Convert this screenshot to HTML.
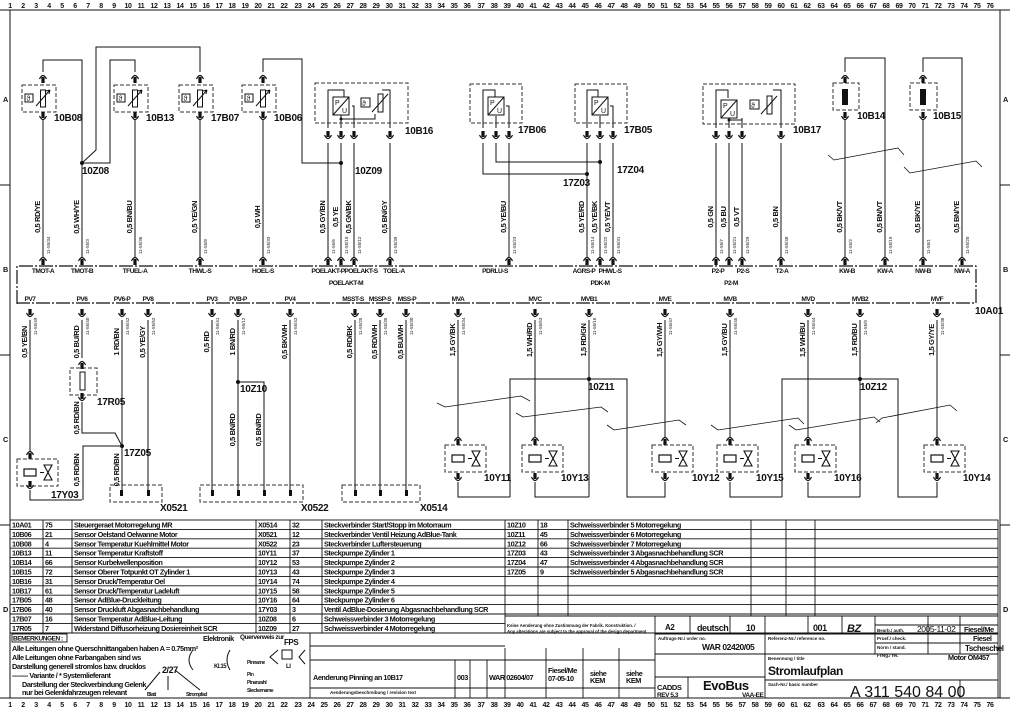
<!DOCTYPE html>
<html><head><meta charset="utf-8"><style>
html,body{margin:0;padding:0;background:#fff}
svg{display:block}
text{font-family:"Liberation Sans Narrow","Liberation Sans",sans-serif;fill:#111}
.t{font-size:7.3px;font-weight:bold;letter-spacing:-0.45px}
.p{font-size:6.6px;font-weight:bold;letter-spacing:-0.5px}
.s{font-size:4.5px}
.w{font-size:7.5px;font-weight:bold;letter-spacing:-0.4px}
.l{font-size:10px;font-weight:bold;letter-spacing:-0.3px}
</style></head><body>
<svg width="1010" height="711" viewBox="0 0 1010 711" xmlns="http://www.w3.org/2000/svg">
<defs>
<g id="cu"><path d="M-3.5,3 Q0,-4 3.5,3" fill="none" stroke="#111" stroke-width="1.2"/><rect x="-1.6" y="1" width="3.2" height="6" fill="#111"/></g>
<g id="cd"><path d="M-3.5,-3 Q0,4 3.5,-3" fill="none" stroke="#111" stroke-width="1.2"/><rect x="-1.6" y="-7" width="3.2" height="6" fill="#111"/></g>
<g id="ts"><rect x="-21" y="0" width="34" height="27" fill="none" stroke="#333" stroke-dasharray="4,2"/><rect x="-18" y="9" width="8" height="8" fill="none" stroke="#111"/><text x="-16.5" y="16" style="font-size:7px">ϑ</text><rect x="-2.5" y="5" width="5" height="17" fill="#fff" stroke="#111"/><path d="M-7,21 L7,5 M7,5 l-4,1 M7,5 l-1,4" stroke="#111" fill="none"/></g>
<g id="vv"><rect x="-13" y="0" width="41" height="27" fill="none" stroke="#333" stroke-dasharray="4,2"/><rect x="-6" y="10" width="12" height="7" fill="#fff" stroke="#111" stroke-width="1.2"/><path d="M10,13.5 H14 M14,6 L22,6 L14,21 L22,21 Z" fill="none" stroke="#111" stroke-width="1.1"/></g>
<g id="pu"><rect x="0" y="0" width="16" height="18" fill="#fff" stroke="#111"/><path d="M0,18 L16,0" stroke="#111"/><text x="2" y="8" style="font-size:7px">P</text><text x="9" y="16" style="font-size:7px">U</text></g>
</defs>
<g stroke="#111" fill="none" stroke-width="1">
<rect x="10" y="10" width="990" height="688"/>
<line x1="0" y1="10" x2="1010" y2="10"/><line x1="0" y1="698" x2="1010" y2="698"/>
<line x1="0" y1="185" x2="10" y2="185"/><line x1="0" y1="355" x2="10" y2="355"/><line x1="0" y1="525" x2="10" y2="525"/>
<line x1="1000" y1="185" x2="1010" y2="185"/><line x1="1000" y1="355" x2="1010" y2="355"/><line x1="1000" y1="525" x2="1010" y2="525"/>
<path d="M17,304 V266 H976 V303 H17" stroke-dasharray="14,2,2,2" stroke-width="1.2"/>
<path d="M43,258 V120 M43,72 V60 H82 V258"/>
<path d="M82,163 L96,150 V47 H200 V72 M82,163 H110 V60 H135 V72"/>
<path d="M135,258 V120 M200,258 V120"/>
<path d="M263,258 V120 M263,72 V59 H302 V163 H341"/>
<path d="M328,258 V143 M341,258 V143 M354,258 V143 M390,258 V143"/>
<path d="M328,128 V90 H344 V98 M341,128 V112 M354,128 V106 H352 M341,119 H375 V114 M390,128 V90 H382"/>
<path d="M483,143 V174 H587 M496,143 V162 H600 M509,143 V258"/>
<path d="M587,258 V143 M600,258 V143 M613,258 V143"/>
<path d="M483,128 V90 H495 V98 M496,128 V116 M509,128 V106 H506"/>
<path d="M587,128 V90 H598 V98 M600,128 V116 M613,128 V106 H610"/>
<path d="M716,258 V143 M729,258 V143 M742,258 V143 M781,258 V143"/>
<path d="M716,128 V90 H728 V98 M729,128 V116 M742,128 V118 M729,120 H742 M781,128 V90 H773"/>
<path d="M845,258 V120 M845,72 V58 H885 V258"/>
<path d="M923,258 V120 M923,72 V58 H962 V258"/>
<path d="M828,155 L834,160 L898,148 L904,155 M904,167 L910,173 L976,161 L982,167" stroke-width="0.8"/>
<rect x="315" y="83" width="93" height="40" stroke="#333" stroke-dasharray="4,2"/>
<rect x="470" y="84" width="52" height="39" stroke="#333" stroke-dasharray="4,2"/>
<rect x="575" y="84" width="52" height="39" stroke="#333" stroke-dasharray="4,2"/>
<rect x="703" y="84" width="92" height="40" stroke="#333" stroke-dasharray="4,2"/>
<rect x="833" y="83" width="26" height="27" stroke="#333" stroke-dasharray="4,2"/>
<rect x="910" y="83" width="27" height="27" stroke="#333" stroke-dasharray="4,2"/>
<path d="M30,320 V452 M30,490 V500 H82 M82,320 V358 M82,402 V433 H115 L122,446 H83 V500"/>
<path d="M122,320 V490 M148,320 V490"/>
<path d="M212,320 V490 M238,320 V490 M238,382 H264 V490 M290,320 V490"/>
<path d="M355,320 V490 M380,320 V490 M406,320 V490"/>
<rect x="70" y="368" width="27" height="27" stroke="#333" stroke-dasharray="4,2"/>
<rect x="80" y="372" width="5" height="18" fill="#fff"/>
<rect x="110" y="485" width="52" height="17" stroke="#333" stroke-dasharray="4,2"/>
<rect x="200" y="485" width="103" height="17" stroke="#333" stroke-dasharray="4,2"/>
<rect x="342" y="485" width="78" height="17" stroke="#333" stroke-dasharray="4,2"/>
<path d="M458,320 V438 M535,320 V438 M589,320 V497 M665,320 V438 M730,320 V438 M808,320 V438 M860,320 V497 M937,320 V438"/>
<path d="M510,497 V379 H627 V497 H665 V482 M458,482 V497 H510 M535,482 V497 H589"/>
<path d="M782,497 V379 H898 V497 H937 V482 M730,482 V497 H782 M808,482 V497 H860"/>
<path d="M437,403 L445,407 L521,396 L530,401 M516,413 L523,417 L601,407 L608,412 M607,425 L614,430 L679,420 L686,425 M711,425 L718,430 L798,418 L804,424 M789,425 L796,430 L874,417 L880,422 M876,423 L882,418 L950,405 L957,411" stroke-width="0.8"/>
</g>
<g fill="#111">
<circle cx="82" cy="163" r="2"/><circle cx="341" cy="163" r="2"/><circle cx="587" cy="174" r="2"/><circle cx="600" cy="162" r="2"/>
<circle cx="122" cy="446" r="2"/><circle cx="238" cy="382" r="2"/><circle cx="589" cy="379" r="2"/><circle cx="860" cy="379" r="2"/>
<circle cx="341" cy="119" r="1.5"/><circle cx="729" cy="120" r="1.5"/>
<rect x="842" y="89" width="6" height="16"/><rect x="920" y="89" width="6" height="16"/>
</g>
<use href="#ts" x="43" y="85"/><use href="#ts" x="135" y="85"/><use href="#ts" x="200" y="85"/><use href="#ts" x="263" y="85"/>
<use href="#pu" x="333" y="97"/><use href="#pu" x="488" y="97"/><use href="#pu" x="592" y="97"/><use href="#pu" x="721" y="100"/>
<g stroke="#111" fill="none"><rect x="361" y="98" width="9" height="9"/><rect x="378" y="94" width="5" height="18" fill="#fff"/><path d="M372,112 L388,94"/>
<rect x="750" y="100" width="9" height="9"/><rect x="767" y="96" width="5" height="18" fill="#fff"/><path d="M761,114 L777,96"/></g>
<text x="362" y="106" style="font-size:7px">ϑ</text><text x="751" y="108" style="font-size:7px">ϑ</text>
<g>
<use href="#cu" x="43" y="76"/><use href="#cd" x="43" y="119"/><use href="#cu" x="135" y="76"/><use href="#cd" x="135" y="119"/>
<use href="#cu" x="200" y="76"/><use href="#cd" x="200" y="119"/><use href="#cu" x="263" y="76"/><use href="#cd" x="263" y="119"/>
<use href="#cu" x="845" y="76"/><use href="#cd" x="845" y="119"/><use href="#cu" x="923" y="76"/><use href="#cd" x="923" y="119"/>
<use href="#cd" x="328" y="138"/><use href="#cd" x="341" y="138"/><use href="#cd" x="354" y="138"/><use href="#cd" x="390" y="138"/>
<use href="#cd" x="483" y="138"/><use href="#cd" x="496" y="138"/><use href="#cd" x="509" y="138"/>
<use href="#cd" x="587" y="138"/><use href="#cd" x="600" y="138"/><use href="#cd" x="613" y="138"/>
<use href="#cd" x="716" y="138"/><use href="#cd" x="729" y="138"/><use href="#cd" x="742" y="138"/><use href="#cd" x="781" y="138"/>
<use href="#cu" x="43" y="258"/><use href="#cu" x="82" y="258"/><use href="#cu" x="135" y="258"/><use href="#cu" x="200" y="258"/><use href="#cu" x="263" y="258"/>
<use href="#cu" x="328" y="258"/><use href="#cu" x="341" y="258"/><use href="#cu" x="354" y="258"/><use href="#cu" x="390" y="258"/><use href="#cu" x="509" y="258"/>
<use href="#cu" x="587" y="258"/><use href="#cu" x="600" y="258"/><use href="#cu" x="613" y="258"/><use href="#cu" x="716" y="258"/><use href="#cu" x="729" y="258"/>
<use href="#cu" x="742" y="258"/><use href="#cu" x="781" y="258"/><use href="#cu" x="845" y="258"/><use href="#cu" x="885" y="258"/><use href="#cu" x="923" y="258"/><use href="#cu" x="962" y="258"/>
<use href="#cd" x="30" y="316"/><use href="#cd" x="82" y="316"/><use href="#cd" x="122" y="316"/><use href="#cd" x="148" y="316"/><use href="#cd" x="212" y="316"/>
<use href="#cd" x="238" y="316"/><use href="#cd" x="290" y="316"/><use href="#cd" x="355" y="316"/><use href="#cd" x="380" y="316"/><use href="#cd" x="406" y="316"/>
<use href="#cd" x="458" y="316"/><use href="#cd" x="535" y="316"/><use href="#cd" x="589" y="316"/><use href="#cd" x="665" y="316"/><use href="#cd" x="730" y="316"/>
<use href="#cd" x="808" y="316"/><use href="#cd" x="860" y="316"/><use href="#cd" x="937" y="316"/>
<use href="#cu" x="82" y="362"/><use href="#cd" x="82" y="400"/>
<use href="#cu" x="30" y="452"/><use href="#cd" x="30" y="488"/>
</g>
<use href="#vv" x="30" y="459"/>
<use href="#vv" x="458" y="445"/><use href="#vv" x="535" y="445"/><use href="#vv" x="665" y="445"/><use href="#vv" x="730" y="445"/><use href="#vv" x="808" y="445"/><use href="#vv" x="937" y="445"/>
<g>
<use href="#cu" x="458" y="438"/><use href="#cd" x="458" y="480"/><use href="#cu" x="535" y="438"/><use href="#cd" x="535" y="480"/>
<use href="#cu" x="665" y="438"/><use href="#cd" x="665" y="480"/><use href="#cu" x="730" y="438"/><use href="#cd" x="730" y="480"/>
<use href="#cu" x="808" y="438"/><use href="#cd" x="808" y="480"/><use href="#cu" x="937" y="438"/><use href="#cd" x="937" y="480"/>
</g>
<g fill="#111"><rect x="120" y="490" width="3" height="6"/><rect x="147" y="490" width="3" height="6"/><rect x="211" y="490" width="3" height="6"/><rect x="237" y="490" width="3" height="6"/><rect x="263" y="490" width="3" height="6"/><rect x="289" y="490" width="3" height="6"/><rect x="354" y="490" width="3" height="6"/><rect x="379" y="490" width="3" height="6"/><rect x="405" y="490" width="3" height="6"/></g>
<g class="l">
<text x="54" y="121">10B08</text><text x="146" y="121">10B13</text><text x="211" y="121">17B07</text><text x="274" y="121">10B06</text><text x="405" y="134">10B16</text>
<text x="82" y="174">10Z08</text><text x="355" y="174">10Z09</text>
<text x="518" y="133">17B06</text><text x="624" y="133">17B05</text><text x="793" y="133">10B17</text><text x="857" y="119">10B14</text><text x="933" y="119">10B15</text>
<text x="617" y="173">17Z04</text><text x="563" y="186">17Z03</text>
<text x="97" y="405">17R05</text><text x="124" y="456">17Z05</text><text x="51" y="498">17Y03</text><text x="240" y="392">10Z10</text>
<text x="588" y="390">10Z11</text><text x="860" y="390">10Z12</text><text x="975" y="314">10A01</text>
<text x="160" y="511">X0521</text><text x="301" y="511">X0522</text><text x="420" y="511">X0514</text>
<text x="484" y="481">10Y11</text><text x="561" y="481">10Y13</text><text x="692" y="481">10Y12</text><text x="756" y="481">10Y15</text><text x="834" y="481">10Y16</text><text x="963" y="481">10Y14</text>
</g>
<g class="p" text-anchor="middle">
<text x="43" y="273">TMOT-A</text><text x="82" y="273">TMOT-B</text><text x="135" y="273">TFUEL-A</text><text x="200" y="273">THWL-S</text><text x="263" y="273">HOEL-S</text>
<text x="328" y="273">POELAKT-P</text><text x="361" y="273">POELAKT-S</text><text x="394" y="273">TOEL-A</text><text x="346" y="285">POELAKT-M</text>
<text x="495" y="273">PDRLU-S</text><text x="584" y="273">AGRS-P</text><text x="610" y="273">PHWL-S</text><text x="600" y="285">PDK-M</text>
<text x="718" y="273">P2-P</text><text x="743" y="273">P2-S</text><text x="782" y="273">T2-A</text><text x="731" y="285">P2-M</text>
<text x="847" y="273">KW-B</text><text x="885" y="273">KW-A</text><text x="923" y="273">NW-B</text><text x="962" y="273">NW-A</text>
<text x="30" y="301">PV7</text><text x="82" y="301">PV6</text><text x="122" y="301">PV6-P</text><text x="148" y="301">PV8</text><text x="212" y="301">PV3</text>
<text x="238" y="301">PVB-P</text><text x="290" y="301">PV4</text><text x="353" y="301">MSST-S</text><text x="380" y="301">MSSP-S</text><text x="407" y="301">MSS-P</text>
<text x="458" y="301">MVA</text><text x="535" y="301">MVC</text><text x="589" y="301">MVB1</text><text x="665" y="301">MVE</text><text x="730" y="301">MVB</text>
<text x="808" y="301">MVD</text><text x="860" y="301">MVB2</text><text x="937" y="301">MVF</text>
</g>
<g class="w" text-anchor="middle">
<text transform="translate(40,217) rotate(-90)">0,5 RD/YE</text><text transform="translate(79,217) rotate(-90)">0,5 WH/YE</text>
<text transform="translate(132,217) rotate(-90)">0,5 BN/BU</text><text transform="translate(197,217) rotate(-90)">0,5 YE/GN</text>
<text transform="translate(260,217) rotate(-90)">0,5 WH</text><text transform="translate(325,217) rotate(-90)">0,5 GY/BN</text>
<text transform="translate(338,217) rotate(-90)">0,5 YE</text><text transform="translate(351,217) rotate(-90)">0,5 GN/BK</text>
<text transform="translate(387,217) rotate(-90)">0,5 BN/GY</text><text transform="translate(506,217) rotate(-90)">0,5 YE/BU</text>
<text transform="translate(584,217) rotate(-90)">0,5 YE/RD</text><text transform="translate(597,217) rotate(-90)">0,5 YE/BK</text>
<text transform="translate(610,217) rotate(-90)">0,5 YE/VT</text><text transform="translate(713,217) rotate(-90)">0,5 GN</text>
<text transform="translate(726,217) rotate(-90)">0,5 BU</text><text transform="translate(739,217) rotate(-90)">0,5 VT</text>
<text transform="translate(778,217) rotate(-90)">0,5 BN</text><text transform="translate(842,217) rotate(-90)">0,5 BK/VT</text>
<text transform="translate(882,217) rotate(-90)">0,5 BN/VT</text><text transform="translate(920,217) rotate(-90)">0,5 BK/YE</text>
<text transform="translate(959,217) rotate(-90)">0,5 BN/YE</text>
<text transform="translate(27,342) rotate(-90)">0,5 YE/BN</text><text transform="translate(79,342) rotate(-90)">0,5 BU/RD</text>
<text transform="translate(119,342) rotate(-90)">1 RD/BN</text><text transform="translate(145,342) rotate(-90)">0,5 YE/GY</text>
<text transform="translate(209,342) rotate(-90)">0,5 RD</text><text transform="translate(235,342) rotate(-90)">1 BN/RD</text>
<text transform="translate(287,342) rotate(-90)">0,5 BK/WH</text><text transform="translate(352,342) rotate(-90)">0,5 RD/BK</text>
<text transform="translate(377,342) rotate(-90)">0,5 RD/WH</text><text transform="translate(403,342) rotate(-90)">0,5 BU/WH</text>
<text transform="translate(79,418) rotate(-90)">0,5 RD/BN</text><text transform="translate(79,470) rotate(-90)">0,5 RD/BN</text>
<text transform="translate(119,470) rotate(-90)">0,5 RD/BN</text><text transform="translate(235,430) rotate(-90)">0,5 BN/RD</text>
<text transform="translate(261,430) rotate(-90)">0,5 BN/RD</text>
<text transform="translate(455,340) rotate(-90)">1,5 GY/BK</text><text transform="translate(532,340) rotate(-90)">1,5 WH/RD</text>
<text transform="translate(586,340) rotate(-90)">1,5 RD/GN</text><text transform="translate(662,340) rotate(-90)">1,5 GY/WH</text>
<text transform="translate(727,340) rotate(-90)">1,5 GY/BU</text><text transform="translate(805,340) rotate(-90)">1,5 WH/BU</text>
<text transform="translate(857,340) rotate(-90)">1,5 RD/BU</text><text transform="translate(934,340) rotate(-90)">1,5 GY/YE</text>
</g>
<g class="s">
<text transform="translate(50,254) rotate(-90)">11-55/34</text><text transform="translate(89,254) rotate(-90)">11-55/3</text><text transform="translate(142,254) rotate(-90)">11-55/36</text>
<text transform="translate(207,254) rotate(-90)">11-55/8</text><text transform="translate(270,254) rotate(-90)">11-55/33</text><text transform="translate(335,254) rotate(-90)">11-55/6</text>
<text transform="translate(348,254) rotate(-90)">11-55/10</text><text transform="translate(361,254) rotate(-90)">11-55/12</text><text transform="translate(397,254) rotate(-90)">11-55/39</text>
<text transform="translate(516,254) rotate(-90)">11-55/23</text><text transform="translate(594,254) rotate(-90)">11-55/14</text><text transform="translate(607,254) rotate(-90)">11-55/22</text>
<text transform="translate(620,254) rotate(-90)">11-55/31</text><text transform="translate(723,254) rotate(-90)">11-55/7</text><text transform="translate(736,254) rotate(-90)">11-55/21</text>
<text transform="translate(749,254) rotate(-90)">11-55/29</text><text transform="translate(788,254) rotate(-90)">11-55/48</text><text transform="translate(852,254) rotate(-90)">11-55/2</text>
<text transform="translate(892,254) rotate(-90)">11-55/19</text><text transform="translate(930,254) rotate(-90)">11-55/1</text><text transform="translate(969,254) rotate(-90)">11-55/20</text>
<text transform="translate(37,335) rotate(-90)">11-55/49</text><text transform="translate(89,335) rotate(-90)">11-55/40</text><text transform="translate(129,335) rotate(-90)">11-55/42</text>
<text transform="translate(155,335) rotate(-90)">11-55/52</text><text transform="translate(219,335) rotate(-90)">11-55/41</text><text transform="translate(245,335) rotate(-90)">11-55/12</text>
<text transform="translate(297,335) rotate(-90)">11-55/43</text><text transform="translate(362,335) rotate(-90)">11-55/25</text><text transform="translate(387,335) rotate(-90)">11-55/35</text>
<text transform="translate(413,335) rotate(-90)">11-55/30</text><text transform="translate(465,335) rotate(-90)">11-55/34</text><text transform="translate(542,335) rotate(-90)">11-55/53</text>
<text transform="translate(596,335) rotate(-90)">11-55/16</text><text transform="translate(672,335) rotate(-90)">11-55/47</text><text transform="translate(737,335) rotate(-90)">11-55/45</text>
<text transform="translate(815,335) rotate(-90)">11-55/44</text><text transform="translate(867,335) rotate(-90)">11-55/9</text><text transform="translate(944,335) rotate(-90)">11-55/38</text>
</g>
<g stroke="#111" fill="none" stroke-width="0.9">
<rect x="10" y="520" width="988" height="113"/>
<path d="M10,529.4 H998 M10,538.8 H998 M10,548.2 H998 M10,557.6 H998 M10,567 H998 M10,576.4 H998 M10,585.8 H998 M10,595.2 H998 M10,604.6 H998 M10,614 H998 M10,623.4 H505"/>
<path d="M43,520 V633 M72,520 V633 M256,520 V633 M290,520 V633 M322,520 V633 M505,520 V633 M538,520 V616 M568,520 V616 M751,520 V616 M786,520 V616 M815,520 V616"/>
<rect x="10" y="633" width="988" height="65"/>
<path d="M310,633 V698 M310,688 H505 M455,660 V698 M470,660 V698 M487,660 V698 M310,660 H505 M310,646 H505"/>
<path d="M505,616 H998 M505,648 V698 M505,660 H655 M546,648 V698 M583,648 V698 M619,648 V698 M505,688 H655"/>
<path d="M655,616 V698 M655,634 H875 M690,616 V634 M730,616 V634 M765,616 V698 M808,616 V634 M842,616 V634 M875,616 V654 M655,654 H998 M655,677 H765 M688,677 V698 M765,680 H998 M928,616 V654 M960,616 V654 M875,625 H998 M875,634 H998 M875,643 H998 M960,680 V698"/>
<rect x="12" y="634" width="55" height="8"/>
</g>
<g class="t">
<text x="12" y="527.5">10A01</text><text x="45" y="527.5">75</text><text x="74" y="527.5">Steuergeraet Motorregelung MR</text>
<text x="12" y="536.9">10B06</text><text x="45" y="536.9">21</text><text x="74" y="536.9">Sensor Oelstand Oelwanne Motor</text>
<text x="12" y="546.3">10B08</text><text x="45" y="546.3">4</text><text x="74" y="546.3">Sensor Temperatur Kuehlmittel Motor</text>
<text x="12" y="555.7">10B13</text><text x="45" y="555.7">11</text><text x="74" y="555.7">Sensor Temperatur Kraftstoff</text>
<text x="12" y="565.1">10B14</text><text x="45" y="565.1">66</text><text x="74" y="565.1">Sensor Kurbelwellenposition</text>
<text x="12" y="574.5">10B15</text><text x="45" y="574.5">72</text><text x="74" y="574.5">Sensor Oberer Totpunkt OT Zylinder 1</text>
<text x="12" y="583.9">10B16</text><text x="45" y="583.9">31</text><text x="74" y="583.9">Sensor Druck/Temperatur Oel</text>
<text x="12" y="593.3">10B17</text><text x="45" y="593.3">61</text><text x="74" y="593.3">Sensor Druck/Temperatur Ladeluft</text>
<text x="12" y="602.7">17B05</text><text x="45" y="602.7">48</text><text x="74" y="602.7">Sensor AdBlue-Druckleitung</text>
<text x="12" y="612.1">17B06</text><text x="45" y="612.1">40</text><text x="74" y="612.1">Sensor Druckluft Abgasnachbehandlung</text>
<text x="12" y="621.5">17B07</text><text x="45" y="621.5">16</text><text x="74" y="621.5">Sensor Temperatur AdBlue-Leitung</text>
<text x="12" y="630.9">17R05</text><text x="45" y="630.9">7</text><text x="74" y="630.9">Widerstand Diffusorheizung Dosiereinheit SCR</text>
<text x="258" y="527.5">X0514</text><text x="292" y="527.5">32</text><text x="324" y="527.5">Steckverbinder Start/Stopp im Motorraum</text>
<text x="258" y="536.9">X0521</text><text x="292" y="536.9">12</text><text x="324" y="536.9">Steckverbinder Ventil Heizung AdBlue-Tank</text>
<text x="258" y="546.3">X0522</text><text x="292" y="546.3">23</text><text x="324" y="546.3">Steckverbinder Luftersteuerung</text>
<text x="258" y="555.7">10Y11</text><text x="292" y="555.7">37</text><text x="324" y="555.7">Steckpumpe Zylinder 1</text>
<text x="258" y="565.1">10Y12</text><text x="292" y="565.1">53</text><text x="324" y="565.1">Steckpumpe Zylinder 2</text>
<text x="258" y="574.5">10Y13</text><text x="292" y="574.5">43</text><text x="324" y="574.5">Steckpumpe Zylinder 3</text>
<text x="258" y="583.9">10Y14</text><text x="292" y="583.9">74</text><text x="324" y="583.9">Steckpumpe Zylinder 4</text>
<text x="258" y="593.3">10Y15</text><text x="292" y="593.3">58</text><text x="324" y="593.3">Steckpumpe Zylinder 5</text>
<text x="258" y="602.7">10Y16</text><text x="292" y="602.7">64</text><text x="324" y="602.7">Steckpumpe Zylinder 6</text>
<text x="258" y="612.1">17Y03</text><text x="292" y="612.1">3</text><text x="324" y="612.1">Ventil AdBlue-Dosierung Abgasnachbehandlung SCR</text>
<text x="258" y="621.5">10Z08</text><text x="292" y="621.5">6</text><text x="324" y="621.5">Schweissverbinder 3 Motorregelung</text>
<text x="258" y="630.9">10Z09</text><text x="292" y="630.9">27</text><text x="324" y="630.9">Schweissverbinder 4 Motorregelung</text>
<text x="507" y="527.5">10Z10</text><text x="540" y="527.5">18</text><text x="570" y="527.5">Schweissverbinder 5 Motorregelung</text>
<text x="507" y="536.9">10Z11</text><text x="540" y="536.9">45</text><text x="570" y="536.9">Schweissverbinder 6 Motorregelung</text>
<text x="507" y="546.3">10Z12</text><text x="540" y="546.3">66</text><text x="570" y="546.3">Schweissverbinder 7 Motorregelung</text>
<text x="507" y="555.7">17Z03</text><text x="540" y="555.7">43</text><text x="570" y="555.7">Schweissverbinder 3 Abgasnachbehandlung SCR</text>
<text x="507" y="565.1">17Z04</text><text x="540" y="565.1">47</text><text x="570" y="565.1">Schweissverbinder 4 Abgasnachbehandlung SCR</text>
<text x="507" y="574.5">17Z05</text><text x="540" y="574.5">9</text><text x="570" y="574.5">Schweissverbinder 5 Abgasnachbehandlung SCR</text>
<text x="13" y="640.5" style="font-size:6.5px">BEMERKUNGEN :</text>
<text x="12" y="651">Alle Leitungen ohne Querschnittangaben haben A = 0.75mm²</text>
<text x="12" y="660">Alle Leitungen ohne Farbangaben sind ws</text>
<text x="12" y="669">Darstellung generell stromlos bzw. drucklos</text>
<text x="12" y="678">-------- Variante  /  * Systemlieferant</text>
<text x="22" y="687">Darstellung der Steckverbindung Gelenk</text>
<text x="22" y="695">nur bei Gelenkfahrzeugen relevant</text>
<text x="162" y="673" style="font-size:9px">2/27</text>
<text x="147" y="696" style="font-size:5px">Blatt</text><text x="186" y="696" style="font-size:5px">Strompfad</text>
<text x="203" y="641">Elektronik</text><text x="240" y="639" style="font-size:6.5px">Querverweis zur</text><text x="284" y="645" style="font-size:8px">FPS</text>
<text x="214" y="668" style="font-size:6px">Kl.15</text><text x="286" y="668" style="font-size:6px">LI</text>
<text x="247" y="664" style="font-size:5px">Pinname</text><text x="247" y="676" style="font-size:5px">Pin</text><text x="247" y="684" style="font-size:5px">Pinanzahl</text><text x="247" y="692" style="font-size:5px">Steckername</text>
<text x="313" y="680">Aenderung Pinning an 10B17</text>
<text x="330" y="694" style="font-size:4.5px;letter-spacing:0">Aenderungsbeschreibung / revision text</text>
<text x="457" y="680">003</text><text x="489" y="680">WAR 02604/07</text>
<text x="548" y="673">Fiesel/Me</text><text x="548" y="681">07-05-10</text><text x="590" y="676">siehe</text><text x="590" y="683">KEM</text><text x="626" y="676">siehe</text><text x="626" y="683">KEM</text>
<text x="507" y="627" style="font-size:4.3px;letter-spacing:0">Keine Aenderung ohne Zustimmung der Fabrik. Konstruktion. /</text>
<text x="507" y="633" style="font-size:4.3px;letter-spacing:0">Any alterations are subject to the approval of the design department</text>
<text x="665" y="630" style="font-size:8px">A2</text><text x="697" y="631" style="font-size:9px">deutsch</text><text x="746" y="631" style="font-size:9px">10</text>
<text x="813" y="631" style="font-size:9px">001</text><text x="847" y="632" style="font-size:11px;font-style:italic">BZ</text>
<text x="658" y="640" style="font-size:4.5px;letter-spacing:0">Auftrags-Nr./ order no.</text><text x="702" y="650" style="font-size:8.5px">WAR 02420/05</text>
<text x="768" y="640" style="font-size:4.5px;letter-spacing:0">Referenz-Nr./ reference no.</text>
<text x="768" y="660" style="font-size:4.5px;letter-spacing:0">Benennung / title</text><text x="948" y="660">Motor OM457</text>
<text x="768" y="675" style="font-size:12px">Stromlaufplan</text>
<text x="768" y="686" style="font-size:4.5px;letter-spacing:0">Sach-Nr./ basic number</text>
<text x="850" y="697" style="font-size:16px;font-weight:normal;letter-spacing:0">A 311 540 84 00</text>
<text x="657" y="690" style="font-size:7.5px">CADDS</text><text x="657" y="697" style="font-size:6.5px">REV 5.3</text>
<text x="703" y="690" style="font-size:13px">EvoBus</text>
<text x="742" y="697" style="font-size:6.5px">VAA-EE</text>
<text x="877" y="632" style="font-size:4.5px;letter-spacing:0">Bearb./ auth.</text><text x="877" y="640" style="font-size:4.5px;letter-spacing:0">Pruef./ check.</text>
<text x="877" y="649" style="font-size:4.5px;letter-spacing:0">Norm / stand.</text><text x="877" y="657" style="font-size:4.5px;letter-spacing:0">Freig./ rel.</text>
<text x="917" y="632" style="font-size:8.5px;font-weight:normal">2005-11-02</text><text x="964" y="632" style="font-size:7.5px">Fiesel/Me</text>
<text x="973" y="641" style="font-size:7.5px">Fiesel</text><text x="965" y="651" style="font-size:8px">Tscheschel</text>
</g>
<g stroke="#111" fill="none"><path d="M193,650 q-8,10 0,20 M230,650 q-6,10 0,20 M278,650 l-8,7 l8,7 M305,650 l-6,7 l6,7 M160,672 L145,690 M168,676 V690 M175,670 L200,690"/><rect x="282" y="650" width="10" height="9"/></g>
<g class="t"><text x="3" y="102">A</text><text x="3" y="272">B</text><text x="3" y="442">C</text><text x="3" y="612">D</text>
<text x="1003" y="102">A</text><text x="1003" y="272">B</text><text x="1003" y="442">C</text><text x="1003" y="612">D</text></g>
<g class="t" text-anchor="middle" style="font-size:7px">
<text x="10" y="8">1</text><text x="23" y="8">2</text><text x="36" y="8">3</text><text x="49" y="8">4</text><text x="62" y="8">5</text><text x="75" y="8">6</text><text x="88" y="8">7</text><text x="101" y="8">8</text><text x="114" y="8">9</text><text x="128" y="8">10</text><text x="141" y="8">11</text><text x="154" y="8">12</text><text x="167" y="8">13</text><text x="180" y="8">14</text><text x="193" y="8">15</text><text x="206" y="8">16</text><text x="219" y="8">17</text><text x="232" y="8">18</text><text x="245" y="8">19</text><text x="258" y="8">20</text><text x="271" y="8">21</text><text x="284" y="8">22</text><text x="298" y="8">23</text><text x="311" y="8">24</text><text x="324" y="8">25</text><text x="337" y="8">26</text><text x="350" y="8">27</text><text x="363" y="8">28</text><text x="376" y="8">29</text><text x="389" y="8">30</text><text x="402" y="8">31</text><text x="415" y="8">32</text><text x="428" y="8">33</text><text x="441" y="8">34</text><text x="454" y="8">35</text><text x="467" y="8">36</text><text x="481" y="8">37</text><text x="494" y="8">38</text><text x="507" y="8">39</text><text x="520" y="8">40</text><text x="533" y="8">41</text><text x="546" y="8">42</text><text x="559" y="8">43</text><text x="572" y="8">44</text><text x="585" y="8">45</text><text x="598" y="8">46</text><text x="611" y="8">47</text><text x="624" y="8">48</text><text x="637" y="8">49</text><text x="651" y="8">50</text><text x="664" y="8">51</text><text x="677" y="8">52</text><text x="690" y="8">53</text><text x="703" y="8">54</text><text x="716" y="8">55</text><text x="729" y="8">56</text><text x="742" y="8">57</text><text x="755" y="8">58</text><text x="768" y="8">59</text><text x="781" y="8">60</text><text x="794" y="8">61</text><text x="807" y="8">62</text><text x="821" y="8">63</text><text x="834" y="8">64</text><text x="847" y="8">65</text><text x="860" y="8">66</text><text x="873" y="8">67</text><text x="886" y="8">68</text><text x="899" y="8">69</text><text x="912" y="8">70</text><text x="925" y="8">71</text><text x="938" y="8">72</text><text x="951" y="8">73</text><text x="964" y="8">74</text><text x="977" y="8">75</text><text x="990" y="8">76</text>
</g>
<g class="t" text-anchor="middle" style="font-size:7px">
<text x="10" y="707">1</text><text x="23" y="707">2</text><text x="36" y="707">3</text><text x="49" y="707">4</text><text x="62" y="707">5</text><text x="75" y="707">6</text><text x="88" y="707">7</text><text x="101" y="707">8</text><text x="114" y="707">9</text><text x="128" y="707">10</text><text x="141" y="707">11</text><text x="154" y="707">12</text><text x="167" y="707">13</text><text x="180" y="707">14</text><text x="193" y="707">15</text><text x="206" y="707">16</text><text x="219" y="707">17</text><text x="232" y="707">18</text><text x="245" y="707">19</text><text x="258" y="707">20</text><text x="271" y="707">21</text><text x="284" y="707">22</text><text x="298" y="707">23</text><text x="311" y="707">24</text><text x="324" y="707">25</text><text x="337" y="707">26</text><text x="350" y="707">27</text><text x="363" y="707">28</text><text x="376" y="707">29</text><text x="389" y="707">30</text><text x="402" y="707">31</text><text x="415" y="707">32</text><text x="428" y="707">33</text><text x="441" y="707">34</text><text x="454" y="707">35</text><text x="467" y="707">36</text><text x="481" y="707">37</text><text x="494" y="707">38</text><text x="507" y="707">39</text><text x="520" y="707">40</text><text x="533" y="707">41</text><text x="546" y="707">42</text><text x="559" y="707">43</text><text x="572" y="707">44</text><text x="585" y="707">45</text><text x="598" y="707">46</text><text x="611" y="707">47</text><text x="624" y="707">48</text><text x="637" y="707">49</text><text x="651" y="707">50</text><text x="664" y="707">51</text><text x="677" y="707">52</text><text x="690" y="707">53</text><text x="703" y="707">54</text><text x="716" y="707">55</text><text x="729" y="707">56</text><text x="742" y="707">57</text><text x="755" y="707">58</text><text x="768" y="707">59</text><text x="781" y="707">60</text><text x="794" y="707">61</text><text x="807" y="707">62</text><text x="821" y="707">63</text><text x="834" y="707">64</text><text x="847" y="707">65</text><text x="860" y="707">66</text><text x="873" y="707">67</text><text x="886" y="707">68</text><text x="899" y="707">69</text><text x="912" y="707">70</text><text x="925" y="707">71</text><text x="938" y="707">72</text><text x="951" y="707">73</text><text x="964" y="707">74</text><text x="977" y="707">75</text><text x="990" y="707">76</text>
</g>
</svg>
</body></html>
